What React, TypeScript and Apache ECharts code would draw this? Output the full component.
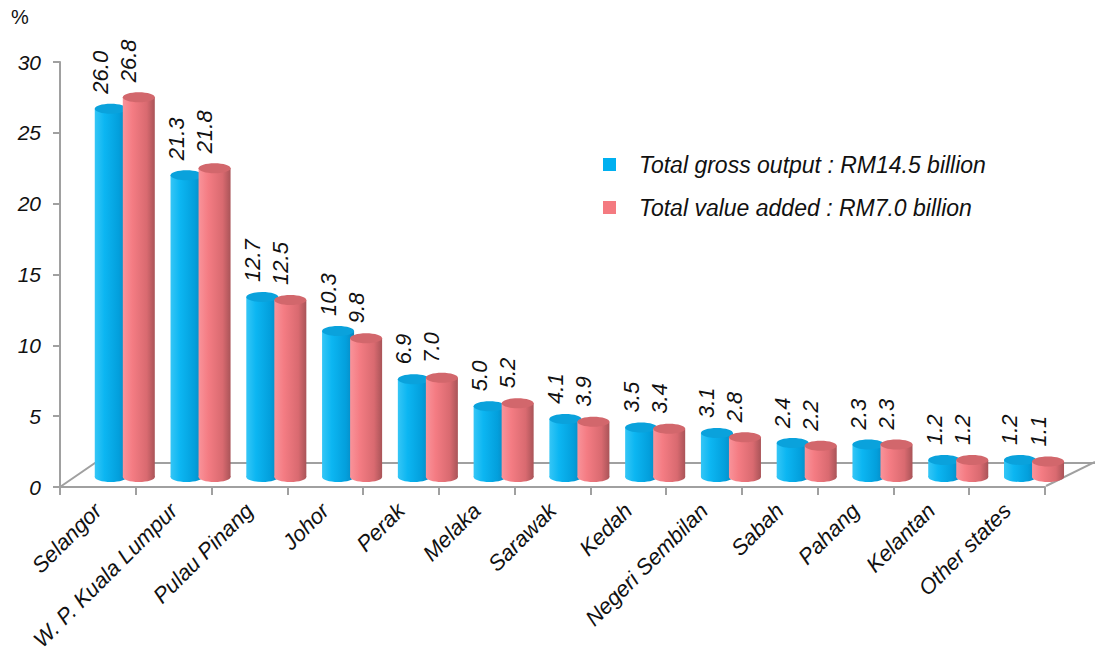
import React, { useEffect, useRef } from "react";
import * as echarts from "echarts";

const categories = [
  "Selangor",
  "W. P. Kuala Lumpur",
  "Pulau Pinang",
  "Johor",
  "Perak",
  "Melaka",
  "Sarawak",
  "Kedah",
  "Negeri Sembilan",
  "Sabah",
  "Pahang",
  "Kelantan",
  "Other states",
];
const grossOutput = [26.0, 21.3, 12.7, 10.3, 6.9, 5.0, 4.1, 3.5, 3.1, 2.4, 2.3, 1.2, 1.2];
const valueAdded = [26.8, 21.8, 12.5, 9.8, 7.0, 5.2, 3.9, 3.4, 2.8, 2.2, 2.3, 1.2, 1.1];
const seriesNames = [
  "Total gross output : RM14.5 billion",
  "Total value added : RM7.0 billion",
];
const yTicks = { min: 0, max: 30, interval: 5 };

const FONT = "'Liberation Sans', Arial, sans-serif";

const palettes = [
  {
    base: "#00b0f0",
    body: [
      [0, "#35c6f6"],
      [0.3, "#0cb6f2"],
      [0.75, "#039fdc"],
      [1, "#0a86bd"],
    ],
    top: "#0aa2dc",
  },
  {
    base: "#f47a80",
    body: [
      [0, "#f9939a"],
      [0.3, "#f47c83"],
      [0.75, "#d96a70"],
      [1, "#a95458"],
    ],
    top: "#d2676c",
  },
];

function makeRender(si: number) {
  return (params: any, api: any) => {
    const idx = api.value(0);
    const val = api.value(1);
    const base = api.coord([idx, 0]);
    const top = api.coord([idx, val]);
    const band = api.size([1, 0])[0];
    const cx = base[0] + (si === 0 ? band * 0.17 : band * 0.54);
    const w = 32;
    const ry = 5;
    const dy = -10;
    const pal = palettes[si];
    const grad = new echarts.graphic.LinearGradient(
      0,
      0,
      1,
      0,
      pal.body.map((s) => ({ offset: s[0] as number, color: s[1] as string }))
    );
    const yb = base[1] + dy;
    const yt = top[1] + dy;
    return {
      type: "group",
      children: [
        {
          type: "ellipse",
          shape: { cx, cy: yb, rx: w / 2, ry },
          style: { fill: grad },
        },
        {
          type: "rect",
          shape: { x: cx - w / 2, y: yt, width: w, height: yb - yt },
          style: { fill: grad },
        },
        {
          type: "ellipse",
          shape: { cx, cy: yt, rx: w / 2, ry },
          style: { fill: pal.top },
        },
        {
          type: "text",
          x: cx - 10,
          y: yt - 15,
          rotation: Math.PI / 2,
          style: {
            text: Number(val).toFixed(1),
            fontSize: 22,
            fontStyle: "italic",
            fontFamily: FONT,
            fill: "#111",
            align: "left",
            verticalAlign: "middle",
          },
        },
      ],
    };
  };
}

export default function App() {
  const ref = useRef<HTMLDivElement>(null);
  useEffect(() => {
    if (!ref.current) return;
    const chart = echarts.init(ref.current, undefined, { renderer: "svg" });
    const axisColor = "#a0a0a0";
    chart.setOption({
      animation: false,
      backgroundColor: "#ffffff",
      grid: { left: 60, right: 50, top: 62, bottom: 181 },
      legend: {
        orient: "vertical",
        left: 598,
        top: 148,
        itemWidth: 13,
        itemHeight: 13,
        itemGap: 20,
        icon: "rect",
        data: seriesNames,
        textStyle: {
          fontSize: 23,
          fontStyle: "italic",
          fontFamily: FONT,
          color: "#111",
          padding: [0, 0, 0, 18],
        },
      },
      graphic: [
        {
          type: "text",
          left: 11,
          top: 7,
          style: { text: "%", fontSize: 20, fontFamily: FONT, fill: "#111" },
        },
        {
          type: "polyline",
          shape: {
            points: [
              [60, 487],
              [95, 463],
              [1095, 463],
            ],
          },
          style: { stroke: axisColor, lineWidth: 2, fill: "none" },
          z: 0,
        },
        {
          type: "line",
          shape: { x1: 1046, y1: 486, x2: 1095, y2: 462 },
          style: { stroke: axisColor, lineWidth: 2 },
          z: 0,
        },
      ],
      xAxis: {
        type: "category",
        data: categories,
        boundaryGap: true,
        axisLine: { show: true, lineStyle: { color: axisColor, width: 2 } },
        axisTick: { show: true, length: 8, lineStyle: { color: axisColor, width: 2 } },
        axisLabel: {
          interval: 0,
          rotate: 45,
          margin: 20,
          fontSize: 22,
          fontStyle: "italic",
          fontFamily: FONT,
          color: "#111",
        },
        splitLine: { show: false },
      },
      yAxis: {
        type: "value",
        min: yTicks.min,
        max: yTicks.max,
        interval: yTicks.interval,
        axisLine: { show: true, lineStyle: { color: axisColor, width: 2 } },
        axisTick: { show: true, length: 7, lineStyle: { color: axisColor, width: 2 } },
        axisLabel: {
          margin: 19,
          fontSize: 21,
          fontStyle: "italic",
          fontFamily: FONT,
          color: "#111",
        },
        splitLine: { show: false },
      },
      series: [grossOutput, valueAdded].map((arr, si) => ({
        name: seriesNames[si],
        type: "custom",
        renderItem: makeRender(si),
        itemStyle: { color: palettes[si].base },
        encode: { x: 0, y: 1 },
        data: arr.map((v, i) => [i, v]),
        clip: false,
        z: 2 + si,
      })),
    });
    return () => chart.dispose();
  }, []);
  return (
    <div
      ref={ref}
      style={{ position: "fixed", left: 0, top: 0, width: 1095, height: 668 }}
    />
  );
}
